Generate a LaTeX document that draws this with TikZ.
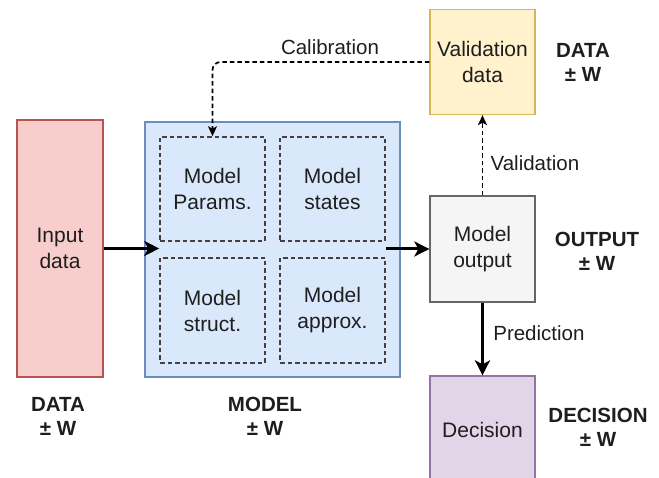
\documentclass[tikz,border=0pt]{standalone}
\usepackage{fontspec}
\setmainfont{Liberation Sans}
\usetikzlibrary{arrows.meta}
\definecolor{redfill}{HTML}{F8CECC}\definecolor{redline}{HTML}{B85450}
\definecolor{bluefill}{HTML}{DAE8FC}\definecolor{blueline}{HTML}{6C8EBF}
\definecolor{yelfill}{HTML}{FFF2CC}\definecolor{yelline}{HTML}{D6B656}
\definecolor{greyfill}{HTML}{F5F5F5}\definecolor{greyline}{HTML}{666666}
\definecolor{purfill}{HTML}{E1D5E7}\definecolor{purline}{HTML}{9673A6}
\definecolor{inner}{HTML}{4A3D40}
\definecolor{txt}{HTML}{1E1E1E}
\tikzset{
  box/.style={draw, line width=1.3pt, inner sep=0pt, align=center, text=txt,
    font=\fontsize{21}{26}\selectfont},
  sub/.style={box, draw=inner, fill=bluefill, dashed, dash pattern=on 4.5pt off 3pt,
    line width=1.6pt, minimum width=105pt, minimum height=104pt},
  tag/.style={align=center, text=txt, font=\fontsize{20.5}{24}\selectfont\bfseries},
  lbl/.style={text=txt, font=\fontsize{20.5}{25}\selectfont},
  bigarrow/.style={line width=3pt, -{Stealth[length=15pt,width=15pt,inset=4pt]}},
  dasharrow/.style={line width=1.7pt, dash pattern=on 4.5pt off 3pt, -{Stealth[length=10pt,width=9pt,inset=2.5pt]}}
}
\begin{document}
\begin{tikzpicture}[x=1pt,y=-1pt]
\useasboundingbox (0,0) rectangle (659,478);
\node[box, fill=redfill, draw=redline, minimum width=86pt, minimum height=257pt] (input) at (60,248.5) {Input\\data};
\node[box, fill=bluefill, draw=blueline, minimum width=255pt, minimum height=255pt] (model) at (272.5,249.5) {};
\node[sub] (params) at (212.5,189) {Model\\Params.};
\node[sub] (states) at (332.5,189) {Model\\states};
\node[sub, minimum height=105pt] (struct) at (212.5,310.5) {Model\\struct.};
\node[sub, minimum height=105pt] (approx) at (332.5,310.5) {Model\\approx.};
\node[box, fill=yelfill, draw=yelline, minimum width=105pt, minimum height=105pt] (valdata) at (482.5,62) {Validation\\data};
\node[box, fill=greyfill, draw=greyline, minimum width=105pt, minimum height=106pt] (output) at (482.5,249) {Model\\output};
\node[box, fill=purfill, draw=purline, minimum width=105pt, minimum height=108pt] (decision) at (482.5,430) {Decision};

\node[tag] (t1) at (583,62) {DATA\\± W};
\node[tag] (t2) at (597,251) {OUTPUT\\± W};
\node[tag] (t3) at (598,427) {DECISION\\± W};
\node[tag] (t4) at (58,416) {DATA\\± W};
\node[tag] (t5) at (265,416) {MODEL\\± W};

\draw[bigarrow] (input.east) -- (input.east -| params.west);
\draw[bigarrow] (output.west -| states.east) -- (output.west);
\draw[bigarrow] (output.south) -- node[lbl, right=6pt, pos=0.42] (lp) {Prediction} (decision.north);
\draw[dasharrow] (output.north) -- node[lbl, right=4pt, pos=0.4] (lv) {Validation} (valdata.south);
\draw[dasharrow, rounded corners=8pt] (valdata.west) -| (params.north);
\node[lbl] (lc) at (330,47) {Calibration};
\end{tikzpicture}
\end{document}
